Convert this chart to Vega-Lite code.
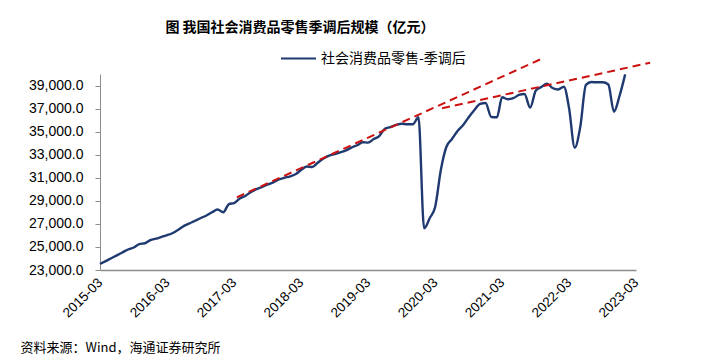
{
  "$schema": "https://vega.github.io/schema/vega-lite/v6.json",
  "width": 536,
  "height": 196,
  "autosize": {"type": "none"},
  "padding": {"left": 100, "top": 74, "right": 76, "bottom": 88},
  "background": "white",
  "config": {"view": {"stroke": null}, "font": "Liberation Sans", "axisY": {"labelOverlap": false}},
  "title": {
    "text": "图  我国社会消费品零售季调后规模（亿元）",
    "font": "Noto Sans CJK SC",
    "fontSize": 14,
    "fontWeight": "bold",
    "color": "black",
    "anchor": "middle",
    "dx": -68,
    "offset": 5
  },
  "datasets": {
    "retail": [
      {"date": "2015-03-01", "value": 23520},
      {"date": "2015-04-01", "value": 23770},
      {"date": "2015-05-01", "value": 24020},
      {"date": "2015-06-01", "value": 24270},
      {"date": "2015-07-01", "value": 24520},
      {"date": "2015-08-01", "value": 24780},
      {"date": "2015-09-01", "value": 24950},
      {"date": "2015-10-01", "value": 25250},
      {"date": "2015-11-01", "value": 25320},
      {"date": "2015-12-01", "value": 25600},
      {"date": "2016-01-01", "value": 25720},
      {"date": "2016-02-01", "value": 25880},
      {"date": "2016-03-01", "value": 26020},
      {"date": "2016-04-01", "value": 26210},
      {"date": "2016-05-01", "value": 26490},
      {"date": "2016-06-01", "value": 26830},
      {"date": "2016-07-01", "value": 27050},
      {"date": "2016-08-01", "value": 27270},
      {"date": "2016-09-01", "value": 27510},
      {"date": "2016-10-01", "value": 27730},
      {"date": "2016-11-01", "value": 28010},
      {"date": "2016-12-01", "value": 28250},
      {"date": "2017-01-01", "value": 28010},
      {"date": "2017-02-01", "value": 28720},
      {"date": "2017-03-01", "value": 28810},
      {"date": "2017-04-01", "value": 29200},
      {"date": "2017-05-01", "value": 29420},
      {"date": "2017-06-01", "value": 29770},
      {"date": "2017-07-01", "value": 30010},
      {"date": "2017-08-01", "value": 30200},
      {"date": "2017-09-01", "value": 30420},
      {"date": "2017-10-01", "value": 30600},
      {"date": "2017-11-01", "value": 30850},
      {"date": "2017-12-01", "value": 31000},
      {"date": "2018-01-01", "value": 31130},
      {"date": "2018-02-01", "value": 31330},
      {"date": "2018-03-01", "value": 31670},
      {"date": "2018-04-01", "value": 31980},
      {"date": "2018-05-01", "value": 31930},
      {"date": "2018-06-01", "value": 32320},
      {"date": "2018-07-01", "value": 32670},
      {"date": "2018-08-01", "value": 32930},
      {"date": "2018-09-01", "value": 33060},
      {"date": "2018-10-01", "value": 33210},
      {"date": "2018-11-01", "value": 33380},
      {"date": "2018-12-01", "value": 33620},
      {"date": "2019-01-01", "value": 33820},
      {"date": "2019-02-01", "value": 34080},
      {"date": "2019-03-01", "value": 34050},
      {"date": "2019-04-01", "value": 34360},
      {"date": "2019-05-01", "value": 34620},
      {"date": "2019-06-01", "value": 35250},
      {"date": "2019-07-01", "value": 35390},
      {"date": "2019-08-01", "value": 35580},
      {"date": "2019-09-01", "value": 35680},
      {"date": "2019-10-01", "value": 35640},
      {"date": "2019-11-01", "value": 35640},
      {"date": "2019-12-01", "value": 36250},
      {"date": "2020-01-01", "value": 26620},
      {"date": "2020-02-01", "value": 27510},
      {"date": "2020-03-01", "value": 28460},
      {"date": "2020-04-01", "value": 31670},
      {"date": "2020-05-01", "value": 33670},
      {"date": "2020-06-01", "value": 34360},
      {"date": "2020-07-01", "value": 35060},
      {"date": "2020-08-01", "value": 35580},
      {"date": "2020-09-01", "value": 36270},
      {"date": "2020-10-01", "value": 36880},
      {"date": "2020-11-01", "value": 37400},
      {"date": "2020-12-01", "value": 37480},
      {"date": "2021-01-01", "value": 36270},
      {"date": "2021-02-01", "value": 36250},
      {"date": "2021-03-01", "value": 37980},
      {"date": "2021-04-01", "value": 37810},
      {"date": "2021-05-01", "value": 37900},
      {"date": "2021-06-01", "value": 38180},
      {"date": "2021-07-01", "value": 38260},
      {"date": "2021-08-01", "value": 37090},
      {"date": "2021-09-01", "value": 38570},
      {"date": "2021-10-01", "value": 38870},
      {"date": "2021-11-01", "value": 39150},
      {"date": "2021-12-01", "value": 38790},
      {"date": "2022-01-01", "value": 38660},
      {"date": "2022-02-01", "value": 38900},
      {"date": "2022-03-01", "value": 37050},
      {"date": "2022-04-01", "value": 33610},
      {"date": "2022-05-01", "value": 35400},
      {"date": "2022-06-01", "value": 39050},
      {"date": "2022-07-01", "value": 39300},
      {"date": "2022-08-01", "value": 39280},
      {"date": "2022-09-01", "value": 39280},
      {"date": "2022-10-01", "value": 39090},
      {"date": "2022-11-01", "value": 36730},
      {"date": "2022-12-01", "value": 38090},
      {"date": "2023-01-01", "value": 39970}
    ],
    "trend": [
      {"segment": "A", "date": "2017-03-16", "value": 29305},
      {"segment": "A", "date": "2021-09-26", "value": 41274},
      {"segment": "B", "date": "2020-04-08", "value": 37024},
      {"segment": "B", "date": "2023-05-17", "value": 40979}
    ]
  },
  "encoding": {
    "x": {
      "field": "date",
      "type": "temporal",
      "scale": {
        "type": "utc",
        "domain": [
          {"year": 2015, "month": 3, "date": 1, "utc": true},
          {"year": 2023, "month": 3, "date": 1, "utc": true}
        ]
      },
      "axis": {
        "values": [
          {"year": 2015, "month": 3, "date": 1, "utc": true},
          {"year": 2016, "month": 3, "date": 1, "utc": true},
          {"year": 2017, "month": 3, "date": 1, "utc": true},
          {"year": 2018, "month": 3, "date": 1, "utc": true},
          {"year": 2019, "month": 3, "date": 1, "utc": true},
          {"year": 2020, "month": 3, "date": 1, "utc": true},
          {"year": 2021, "month": 3, "date": 1, "utc": true},
          {"year": 2022, "month": 3, "date": 1, "utc": true},
          {"year": 2023, "month": 3, "date": 1, "utc": true}
        ],
        "format": "%Y-%m",
        "labelAngle": -45,
        "labelAlign": "right",
        "labelBaseline": "middle",
        "labelFont": "Liberation Sans",
        "labelFontSize": 13.5,
        "labelColor": "black",
        "labelPadding": 10,
        "labelFlush": false,
        "labelOverlap": false,
        "ticks": false,
        "grid": false,
        "domainColor": "#8c8c8c",
        "domainWidth": 1.5,
        "title": "资料来源：Wind，海通证券研究所",
        "titleFont": "Noto Sans CJK SC",
        "titleFontSize": 13,
        "titleFontWeight": "normal",
        "titleColor": "black",
        "titleAnchor": "start",
        "titleAlign": "left",
        "titleBaseline": "middle",
        "titleX": -80,
        "titleY": 77
      }
    },
    "y": {
      "field": "value",
      "type": "quantitative",
      "scale": {"domain": [23000, 40000], "nice": false, "zero": false},
      "axis": {
        "values": [23000, 25000, 27000, 29000, 31000, 33000, 35000, 37000, 39000],
        "format": ",.1f",
        "labelFont": "Liberation Sans",
        "labelFontSize": 14,
        "labelColor": "black",
        "labelPadding": 12,
        "labelOverlap": false,
        "labelFlush": false,
        "tickSize": 5,
        "tickColor": "#8c8c8c",
        "domainColor": "#8c8c8c",
        "grid": false,
        "title": null
      }
    }
  },
  "layer": [
    {
      "data": {"name": "retail"},
      "mark": {"type": "line", "interpolate": "monotone", "strokeWidth": 2.4},
      "encoding": {
        "color": {
          "datum": "社会消费品零售-季调后",
          "scale": {"domain": ["社会消费品零售-季调后"], "range": ["#1f3a70"]},
          "legend": {
            "orient": "none",
            "legendX": 180,
            "legendY": -34,
            "title": null,
            "padding": 0,
            "symbolType": "stroke",
            "symbolSize": 1225,
            "symbolStrokeWidth": 2,
            "labelFont": "Noto Sans CJK SC",
            "labelFontSize": 14,
            "labelColor": "black",
            "labelOffset": 4
          }
        }
      }
    },
    {
      "data": {"name": "trend"},
      "mark": {"type": "line", "clip": false, "color": "#cc1111", "strokeDash": [8, 5], "strokeWidth": 2},
      "encoding": {
        "detail": {"field": "segment"}
      }
    }
  ]
}
